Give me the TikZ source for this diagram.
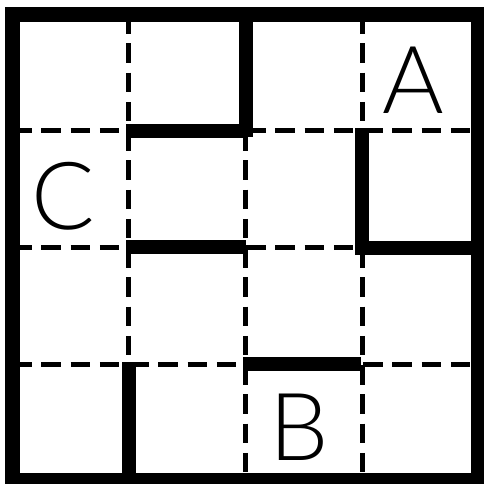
\documentclass[tikz,border=0pt]{standalone}
\usepackage{fontspec}
\setmainfont{Liberation Sans}
\newfontfamily\thinfont{Lato Light}
\begin{document}
\begin{tikzpicture}[x=1pt,y=-1pt,
  gridline/.style={line width=5pt,dash pattern=on 19.5pt off 9.75pt,dash phase=-2pt},
  wall/.style={line width=14pt,line cap=butt},
  border/.style={line width=15pt},
  letter/.style={inner sep=0pt,font=\thinfont\fontsize{94}{94}\selectfont}]
\useasboundingbox (0,0) rectangle (484,483);
\fill[white] (0,0) rectangle (484,483);
% dashed grid
\draw[gridline] (128.5,12) -- (128.5,481);
\draw[gridline] (245.5,12) -- (245.5,481);
\draw[gridline] (362.5,12) -- (362.5,481);
\draw[gridline] (10,130) -- (479,130);
\draw[gridline] (10,247) -- (479,247);
\draw[gridline] (10,364) -- (479,364);
% walls
\draw[wall] (245.5,7) -- (245.5,137);
\draw[wall] (126,130.5) -- (248,130.5);
\draw[wall] (126,247) -- (246,247);
\draw[wall] (362,128) -- (362,254);
\draw[wall] (355,247.5) -- (475,247.5);
\draw[wall] (243,364) -- (361,364);
\draw[wall] (129,362) -- (129,475);
% outer border
\draw[border] (12.5,14.5) rectangle (478.5,480.5);
% labels
\node[letter] (A) at (413,80) {A};
\node[letter] (C) at (63,196) {C};
\node[letter] (B) at (299.5,427.5) {B};
\end{tikzpicture}
\end{document}
